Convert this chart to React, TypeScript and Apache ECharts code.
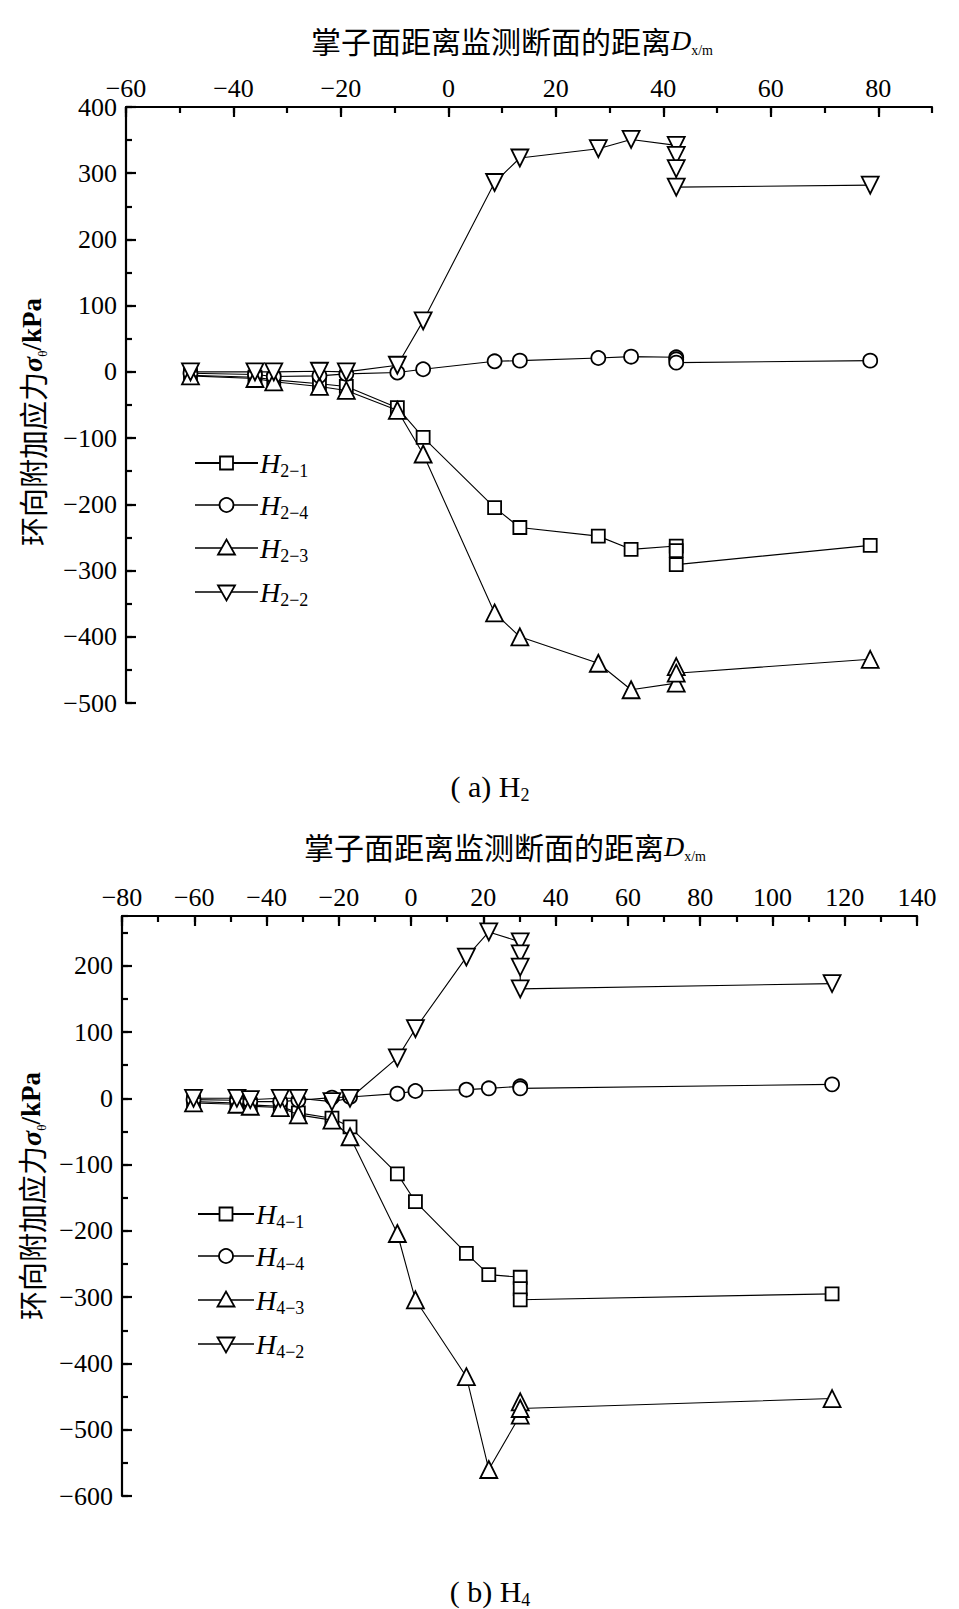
import React, { useEffect, useRef } from "react";
import * as echarts from "echarts";

// ---------- (a) H2 ----------
const aXTicks = { min: -60, max: 90, major: 20, minor: 10 };
const aYTicks = { min: -500, max: 400, major: 100, minor: 50 };

const aH21X = [-48, -36, -32.5, -24, -19, -9.5, -4.7, 8.6, 13.3, 27.9, 34, 42.4, 42.4, 42.4, 78.5];
const aH21Y = [-5, -8, -12, -18, -22, -54, -99, -205, -235, -248, -268, -263, -270, -291, -262];

const aH24X = [-48, -36, -32.5, -24, -19, -9.5, -4.7, 8.6, 13.3, 27.9, 34, 42.4, 42.4, 42.4, 78.5];
const aH24Y = [-2, -4, -7, -6, -3, -1, 4, 16, 17, 21, 23, 22, 19, 14, 17];

const aH23X = [-48, -36, -32.5, -24, -19, -9.5, -4.7, 8.6, 13.3, 27.9, 34, 42.4, 42.4, 42.4, 78.5];
const aH23Y = [-6, -10, -15, -22, -28, -58, -124, -364, -400, -440, -480, -470, -445, -455, -434];

const aH22X = [-48, -36, -32.5, -24, -19, -9.5, -4.7, 8.6, 13.3, 27.9, 34, 42.4, 42.4, 42.4, 42.4, 78.5];
const aH22Y = [0, 0, 0, 1, 0, 10, 77, 286, 323, 337, 351, 342, 327, 307, 279, 282];

// ---------- (b) H4 ----------
const bXTicks = { min: -80, max: 140, major: 20, minor: 10 };
const bYTicks = { min: -600, max: 275, major: 100, minor: 50 };

const bH41X = [-60.2, -48.2, -44.5, -36.2, -31.2, -21.9, -16.9, -3.8, 1.2, 15.3, 21.5, 30.2, 30.2, 30.2, 116.5];
const bH41Y = [-5, -7, -10, -12, -22, -30, -43, -114, -156, -234, -266, -270, -287, -304, -295];

const bH44X = [-60.2, -48.2, -44.5, -36.2, -31.2, -21.9, -16.9, -3.8, 1.2, 15.3, 21.5, 30.2, 30.2, 116.5];
const bH44Y = [-2, -3, -5, -5, -3, 1, 2, 7, 11, 13, 15, 18, 15, 21];

const bH43X = [-60.2, -48.2, -44.5, -36.2, -31.2, -21.9, -16.9, -3.8, 1.2, 15.3, 21.5, 30.2, 30.2, 30.2, 116.5];
const bH43Y = [-7, -9, -12, -14, -25, -33, -58, -204, -304, -420, -560, -478, -458, -468, -453];

const bH42X = [-60.2, -48.2, -44.5, -36.2, -31.2, -21.9, -16.9, -3.8, 1.2, 15.3, 21.5, 30.2, 30.2, 30.2, 30.2, 116.5];
const bH42Y = [0, 0, -2, 0, 0, -5, 0, 61, 105, 213, 251, 236, 218, 198, 165, 173];

const aNames = ["2−1", "2−4", "2−3", "2−2"];
const bNames = ["4−1", "4−4", "4−3", "4−2"];

const SERIF = '"Liberation Serif","Times New Roman","Noto Sans CJK SC",serif';
const CJK = '"Noto Sans CJK SC","Liberation Serif",serif';

const pairs = (xs: number[], ys: number[]) => xs.map((x, i) => [x, ys[i]]);
const fmt = (v: number) => (v < 0 ? "−" + Math.abs(v) : String(v));

function xAxes(grid: number, t: any, hideMax: boolean) {
  return [
    {
      type: "value",
      gridIndex: grid,
      position: "top",
      min: t.min,
      max: t.max,
      interval: t.major,
      axisLine: { show: true, onZero: false, lineStyle: { color: "#000", width: 2.2 } },
      axisTick: { show: true, inside: true, length: 10, lineStyle: { color: "#000", width: 2.2 } },
      axisLabel: {
        show: true,
        color: "#000",
        fontSize: 26,
        fontFamily: SERIF,
        margin: 6,
        showMaxLabel: !hideMax,
        showMinLabel: true,
        formatter: fmt,
      },
      splitLine: { show: false },
    },
    {
      type: "value",
      gridIndex: grid,
      position: "top",
      min: t.min,
      max: t.max,
      interval: t.minor,
      axisLine: { show: false, onZero: false },
      axisTick: { show: true, inside: true, length: 6, lineStyle: { color: "#000", width: 2.2 } },
      axisLabel: { show: false },
      splitLine: { show: false },
    },
  ];
}

function yAxes(grid: number, t: any, hideMax: boolean) {
  return [
    {
      type: "value",
      gridIndex: grid,
      position: "left",
      min: t.min,
      max: t.max,
      interval: t.major,
      axisLine: { show: true, onZero: false, lineStyle: { color: "#000", width: 2.2 } },
      axisTick: { show: true, inside: true, length: 10, lineStyle: { color: "#000", width: 2.2 } },
      axisLabel: {
        show: true,
        color: "#000",
        fontSize: 26,
        fontFamily: SERIF,
        margin: 9,
        showMaxLabel: !hideMax,
        showMinLabel: true,
        formatter: fmt,
      },
      splitLine: { show: false },
    },
    {
      type: "value",
      gridIndex: grid,
      position: "left",
      min: t.min,
      max: t.max,
      interval: t.minor,
      axisLine: { show: false, onZero: false },
      axisTick: { show: true, inside: true, length: 6, lineStyle: { color: "#000", width: 2.2 } },
      axisLabel: { show: false },
      splitLine: { show: false },
    },
  ];
}

const symbolDefs = [
  { symbol: "rect", size: 13, rotate: 0 },
  { symbol: "circle", size: 14, rotate: 0 },
  { symbol: "triangle", size: 17, rotate: 0 },
  { symbol: "triangle", size: 17, rotate: 180 },
];

function mkSeries(name: string, data: number[][], idx: number, axisBase: number) {
  const s = symbolDefs[idx];
  return {
    name,
    type: "line",
    xAxisIndex: axisBase,
    yAxisIndex: axisBase,
    data,
    symbol: s.symbol,
    symbolSize: s.size,
    symbolRotate: s.rotate,
    showAllSymbol: true,
    lineStyle: { color: "#000", width: 1.1 },
    itemStyle: { color: "#fff", borderColor: "#000", borderWidth: 1.8 },
    emphasis: { disabled: true },
    z: 3 + idx,
  };
}

function legendGraphics(x0: number, x1: number, textX: number, rows: number[], sub: string[]) {
  const out: any[] = [];
  const cx = (x0 + x1) / 2;
  rows.forEach((y, i) => {
    out.push({
      type: "line",
      shape: { x1: x0, y1: y, x2: x1, y2: y },
      style: { stroke: "#000", lineWidth: i === 0 ? 2 : 1.3 },
    });
    const st = { fill: "#fff", stroke: "#000", lineWidth: 1.8 };
    if (i === 0) out.push({ type: "rect", shape: { x: cx - 6.5, y: y - 6.5, width: 13, height: 13 }, style: st });
    if (i === 1) out.push({ type: "circle", shape: { cx, cy: y, r: 7 }, style: st });
    if (i === 2)
      out.push({ type: "polygon", shape: { points: [[cx - 8.5, y + 6.5], [cx + 8.5, y + 6.5], [cx, y - 8.5]] }, style: st });
    if (i === 3)
      out.push({ type: "polygon", shape: { points: [[cx - 8.5, y - 6.5], [cx + 8.5, y - 6.5], [cx, y + 8.5]] }, style: st });
    out.push({
      type: "text",
      x: textX,
      y,
      style: {
        text: "{h|H}{s|" + sub[i] + "}",
        verticalAlign: "middle",
        align: "left",
        rich: {
          h: { fontSize: 28, fontStyle: "italic", fontFamily: SERIF, fill: "#000", lineHeight: 34, verticalAlign: "middle" },
          s: { fontSize: 18, fontFamily: SERIF, fill: "#000", lineHeight: 18, verticalAlign: "bottom" },
        },
      },
    });
  });
  return out;
}

function xTitle(cx: number, cy: number) {
  return {
    type: "text",
    x: cx,
    y: cy,
    style: {
      text: "{c|掌子面距离监测断面的距离}{d|D}{s|x/m}",
      align: "center",
      verticalAlign: "middle",
      rich: {
        c: { fontSize: 30, fontFamily: CJK, fill: "#000", lineHeight: 34, verticalAlign: "middle" },
        d: { fontSize: 28, fontStyle: "italic", fontFamily: SERIF, fill: "#000", lineHeight: 34, verticalAlign: "middle" },
        s: { fontSize: 14, fontFamily: SERIF, fill: "#000", lineHeight: 14, verticalAlign: "bottom" },
      },
    },
  };
}

function yTitle(cx: number, cy: number) {
  return {
    type: "text",
    x: cx,
    y: cy,
    rotation: Math.PI / 2,
    style: {
      text: "{c|环向附加应力}{g|σ}{s|θ}{u|/kPa}",
      align: "center",
      verticalAlign: "middle",
      rich: {
        c: { fontSize: 29, fontFamily: CJK, fill: "#000", lineHeight: 34, verticalAlign: "middle" },
        g: { fontSize: 28, fontStyle: "italic", fontWeight: "bold", fontFamily: SERIF, fill: "#000", lineHeight: 34, verticalAlign: "middle" },
        s: { fontSize: 13, fontFamily: SERIF, fill: "#000", lineHeight: 13, verticalAlign: "bottom" },
        u: { fontSize: 27, fontWeight: "bold", fontFamily: SERIF, fill: "#000", lineHeight: 34, verticalAlign: "middle" },
      },
    },
  };
}

function caption(cx: number, cy: number, letter: string, sub: string) {
  return {
    type: "text",
    x: cx,
    y: cy,
    style: {
      text: "{t|( " + letter + ") H}{s|" + sub + "}",
      align: "center",
      verticalAlign: "middle",
      rich: {
        t: { fontSize: 30, fontFamily: SERIF, fill: "#000", lineHeight: 36, verticalAlign: "middle" },
        s: { fontSize: 18, fontFamily: SERIF, fill: "#000", lineHeight: 18, verticalAlign: "bottom" },
      },
    },
  };
}

export default function App() {
  const ref = useRef<HTMLDivElement>(null);
  useEffect(() => {
    if (!ref.current) return;
    const chart = echarts.init(ref.current, undefined, { renderer: "svg" });
    const option: any = {
      animation: false,
      backgroundColor: "#fff",
      grid: [
        { left: 126, top: 107, width: 806, height: 596, outerBoundsMode: "none", containLabel: false },
        { left: 122, top: 916, width: 795, height: 580, outerBoundsMode: "none", containLabel: false },
      ],
      xAxis: [...xAxes(0, aXTicks, true), ...xAxes(1, bXTicks, false)],
      yAxis: [...yAxes(0, aYTicks, false), ...yAxes(1, bYTicks, true)],
      series: [
        mkSeries("H2-1", pairs(aH21X, aH21Y), 0, 0),
        mkSeries("H2-4", pairs(aH24X, aH24Y), 1, 0),
        mkSeries("H2-3", pairs(aH23X, aH23Y), 2, 0),
        mkSeries("H2-2", pairs(aH22X, aH22Y), 3, 0),
        mkSeries("H4-1", pairs(bH41X, bH41Y), 0, 2),
        mkSeries("H4-4", pairs(bH44X, bH44Y), 1, 2),
        mkSeries("H4-3", pairs(bH43X, bH43Y), 2, 2),
        mkSeries("H4-2", pairs(bH42X, bH42Y), 3, 2),
      ],
      graphic: [
        xTitle(512, 40),
        xTitle(505, 846),
        yTitle(32, 422),
        yTitle(31, 1196),
        ...legendGraphics(195, 258, 260, [463, 505, 548, 592], aNames),
        ...legendGraphics(198, 254, 256, [1214, 1256, 1300, 1344], bNames),
        caption(490, 786, "a", "2"),
        caption(490, 1591, "b", "4"),
      ],
    };
    chart.setOption(option);
    return () => chart.dispose();
  }, []);
  return (
    <div
      ref={ref}
      style={{ position: "absolute", left: 0, top: 0, width: 959, height: 1609, background: "#fff" }}
    />
  );
}
